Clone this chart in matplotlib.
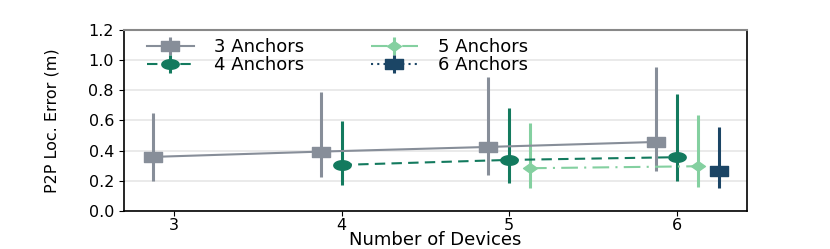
import matplotlib
matplotlib.use("Agg")
import matplotlib.pyplot as plt
import numpy as np
from matplotlib.path import Path

devices = [3, 4, 5, 6]
series_names = ["3 Anchors", "4 Anchors", "5 Anchors", "6 Anchors"]

x3 = [3, 4, 5, 6]
m3 = [0.358, 0.393, 0.424, 0.457]
lo3 = [0.20, 0.223, 0.24, 0.267]
hi3 = [0.65, 0.787, 0.886, 0.953]

x4 = [4, 5, 6]
m4 = [0.305, 0.338, 0.356]
lo4 = [0.17, 0.188, 0.195]
hi4 = [0.597, 0.685, 0.774]

x5 = [5, 6]
m5 = [0.283, 0.296]
lo5 = [0.155, 0.16]
hi5 = [0.583, 0.637]

x6 = [6]
m6 = [0.265]
lo6 = [0.153]
hi6 = [0.555]

yticks = [0.0, 0.2, 0.4, 0.6, 0.8, 1.0, 1.2]

# wide marker shapes (reference appears horizontally stretched)
rect = Path([(-1, -0.55), (1, -0.55), (1, 0.55), (-1, 0.55), (-1, -0.55)],
            [Path.MOVETO, Path.LINETO, Path.LINETO, Path.LINETO, Path.CLOSEPOLY])
t = np.linspace(0, 2 * np.pi, 40)
ell = Path(np.column_stack([np.cos(t), 0.55 * np.sin(t)]), closed=True)
dia = Path([(-1, 0), (0, 0.7), (1, 0), (0, -0.7), (-1, 0)],
           [Path.MOVETO, Path.LINETO, Path.LINETO, Path.LINETO, Path.CLOSEPOLY])

fig = plt.figure(figsize=(8.3, 2.49), dpi=100)
ax = fig.add_axes([0.149, 0.153, 0.751, 0.727])

specs = [
    (x3, m3, lo3, hi3, -0.125, "#878e99", "-", rect, 12.5),
    (x4, m4, lo4, hi4, 0.0, "#137a5e", (0, (5, 3)), ell, 12.5),
    (x5, m5, lo5, hi5, 0.125, "#84d0a0", (0, (8, 3, 1, 3)), dia, 10),
    (x6, m6, lo6, hi6, 0.25, "#1b4565", (0, (1, 2)), rect, 12.5),
]
handles = []
for (xs, ms, los, his, off, col, ls, mk, msz), name in zip(specs, series_names):
    xs = np.array(xs, dtype=float) + off
    ms = np.array(ms)
    yerr = [ms - np.array(los), np.array(his) - ms]
    eb = ax.errorbar(xs, ms, yerr=yerr, color=col, linestyle=ls, linewidth=1.5,
                     marker=mk, markersize=msz, elinewidth=2.2, capsize=0,
                     label=name, zorder=3)
    handles.append(eb)

ax.set_xlim(2.70, 6.42)
ax.set_ylim(0, 1.2)
ax.set_xticks(devices)
ax.set_yticks(yticks)
ax.set_yticklabels([f"{v:.1f}" for v in yticks])
ax.yaxis.grid(True, color="#e6e6e6", linewidth=1.2)
ax.set_axisbelow(True)
ax.tick_params(labelsize=11.5)
ax.tick_params(axis="x", pad=1.5)
ax.set_xlabel("Number of Devices", fontsize=13, va="center")
ax.xaxis.set_label_coords(0.5, -0.162)
ax.set_ylabel("P2P Loc. Error (m)", fontsize=11.5, va="center")
ax.yaxis.set_label_coords(-0.115, 0.5)
ax.spines["top"].set_color("#888888")
ax.spines["top"].set_linewidth(1.5)
for s in ["left", "right", "bottom"]:
    ax.spines[s].set_color("black")
    ax.spines[s].set_linewidth(1.2)

ax.legend(handles=handles, labels=series_names, ncol=2, loc="upper left",
          frameon=False, fontsize=13, handlelength=2.6, handletextpad=1.1,
          columnspacing=3.7, labelspacing=0.0, borderaxespad=0.2,
          bbox_to_anchor=(0.02, 1.015))

fig.savefig("out.png", dpi=100)
